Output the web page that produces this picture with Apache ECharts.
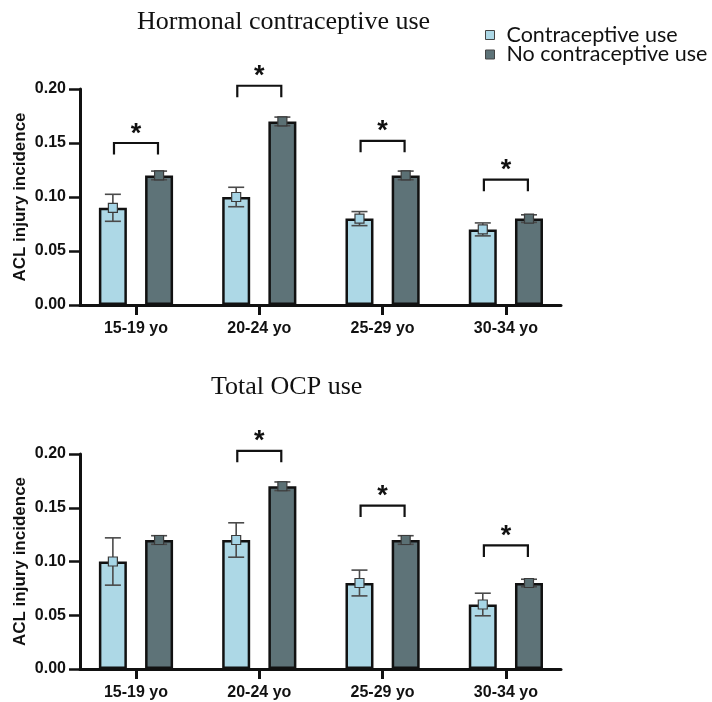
<!DOCTYPE html>
<html><head><meta charset="utf-8">
<script src="https://cdn.jsdelivr.net/npm/echarts@6/dist/echarts.min.js"></script>
<style>html,body{margin:0;padding:0;background:#fff}#c{width:712px;height:702px}</style>
</head><body><div id="c"></div>
<script>
// ---- data ----
const categories = ['15-19 yo', '20-24 yo', '25-29 yo', '30-34 yo'];
const seriesNames = ['Contraceptive use', 'No contraceptive use'];
const panelTitles = ['Hormonal contraceptive use', 'Total OCP use'];
const yAxisName = 'ACL injury incidence';
const yTickValues = [0, 0.05, 0.10, 0.15, 0.20];

// Panel 1: Hormonal contraceptive use
const hormUse = [0.09, 0.10, 0.08, 0.07];
const hormUseErr = [0.0125, 0.009, 0.0065, 0.006];
const hormNoUse = [0.12, 0.17, 0.12, 0.08];
const hormNoUseErr = [0.004, 0.004, 0.004, 0.0035];
const hormSig = [0.150, 0.203, 0.152, 0.116];

// Panel 2: Total OCP use
const ocpUse = [0.10, 0.12, 0.08, 0.06];
const ocpUseErr = [0.022, 0.016, 0.012, 0.0105];
const ocpNoUse = [0.12, 0.17, 0.12, 0.08];
const ocpNoUseErr = [0.004, 0.004, 0.004, 0.0035];
const ocpSig = [null, 0.203, 0.152, 0.115];

// ---- style ----
const LIGHT = '#ADD8E6', DARK = '#5E7378';
const INK = '#111';
const BAR_W = 28, BAR_GAP = 0.65;
const OFF = (BAR_W + BAR_W * BAR_GAP) / 2;
const SANS = '"Liberation Sans", Arial, sans-serif';

const chart = echarts.init(document.getElementById('c'));

function xAxisCfg(gi) {
  return {
    type: 'value', gridIndex: gi, min: -0.454, max: 3.447,
    axisLine: { show: true, onZero: false, lineStyle: { color: INK, width: 3 } },
    axisTick: { show: true, customValues: categories.map((c, i) => i), length: 10, lineStyle: { color: INK, width: 3 } },
    axisLabel: { show: true, customValues: categories.map((c, i) => i), formatter: v => categories[Math.round(v)],
      color: INK, fontFamily: SANS, fontWeight: 'bold', fontSize: 16, margin: 16 },
    splitLine: { show: false }
  };
}
function yAxisCfg(gi) {
  return {
    type: 'value', gridIndex: gi, min: yTickValues[0], max: yTickValues[yTickValues.length - 1], interval: 0.05,
    axisLine: { show: true, onZero: false, lineStyle: { color: INK, width: 3 } },
    axisTick: { show: true, length: 11, lineStyle: { color: INK, width: 2.5 } },
    axisLabel: { color: INK, fontFamily: SANS, fontWeight: 'bold', fontSize: 16, margin: 14, formatter: v => v.toFixed(2) },
    splitLine: { show: false },
    name: yAxisName, nameLocation: 'middle', nameGap: 51, nameRotate: 90, nameMoveOverlap: false,
    nameTextStyle: { color: INK, fontFamily: SANS, fontWeight: 'bold', fontSize: 17 }
  };
}
function barSeries(name, vals, color, gi) {
  return {
    type: 'bar', name, xAxisIndex: gi, yAxisIndex: gi,
    data: vals.map((v, i) => [i, v]),
    barWidth: BAR_W, barGap: (BAR_GAP * 100) + '%',
    itemStyle: { color, borderColor: INK, borderWidth: 2.5 },
    emphasis: { disabled: true }, z: 2
  };
}
function errSeries(vals, errs, side, fill, gi) {
  return {
    type: 'custom', xAxisIndex: gi, yAxisIndex: gi, z: 5, silent: true,
    data: vals.map((v, i) => [i, v, errs[i]]),
    renderItem: function (params, api) {
      const x = api.value(0), m = api.value(1), e = api.value(2);
      const c = api.coord([x, m]), t = api.coord([x, m + e]), b = api.coord([x, m - e]);
      const cx = c[0] + side * OFF;
      const ls = { stroke: '#4a4a4a', lineWidth: 1.6 };
      return { type: 'group', children: [
        { type: 'line', shape: { x1: cx, y1: t[1], x2: cx, y2: b[1] }, style: ls },
        { type: 'line', shape: { x1: cx - 8, y1: t[1], x2: cx + 8, y2: t[1] }, style: ls },
        { type: 'line', shape: { x1: cx - 8, y1: b[1], x2: cx + 8, y2: b[1] }, style: ls },
        { type: 'rect', shape: { x: cx - 4.5, y: c[1] - 4.5, width: 9, height: 9 },
          style: { fill: fill, stroke: '#3a3a3a', lineWidth: 1.2 } }
      ] };
    }
  };
}
function sigSeries(sig, gi) {
  const data = [];
  sig.forEach((v, i) => { if (v != null) data.push([i, v]); });
  return {
    type: 'custom', xAxisIndex: gi, yAxisIndex: gi, z: 6, silent: true, clip: false,
    data,
    renderItem: function (params, api) {
      const p = api.coord([api.value(0), api.value(1)]);
      const L = 11.5, W = 22;
      return { type: 'group', children: [
        { type: 'polyline', shape: { points: [[p[0] - W, p[1] + L], [p[0] - W, p[1]], [p[0] + W, p[1]], [p[0] + W, p[1] + L]] },
          style: { stroke: INK, lineWidth: 2.2, fill: 'none' } },
        { type: 'text', x: p[0], y: p[1] - 8.8,
          style: { text: '*', fill: INK, font: 'bold 27px ' + SANS, align: 'center', verticalAlign: 'middle' } }
      ] };
    }
  };
}

const option = {
  backgroundColor: '#fff',
  animation: false,
  title: [
    { text: panelTitles[0], left: 137, top: 9.5, padding: 0,
      textStyle: { fontFamily: '"Liberation Serif", "Times New Roman", serif', fontSize: 26, fontWeight: 'normal', color: INK } },
    { text: panelTitles[1], left: 211, top: 374.5, padding: 0,
      textStyle: { fontFamily: '"Liberation Serif", "Times New Roman", serif', fontSize: 26, fontWeight: 'normal', color: INK } }
  ],
  legend: {
    orient: 'vertical', left: 485, top: 24, padding: 0, itemGap: -2.5,
    itemWidth: 9, itemHeight: 9, icon: 'rect',
    data: seriesNames,
    itemStyle: { borderColor: '#444', borderWidth: 1 },
    textStyle: { fontFamily: 'Lato, "Open Sans", sans-serif', fontSize: 21.5, color: INK, padding: [0, 0, 0, 7] },
    selectedMode: false
  },
  grid: [
    { left: 80, top: 89, width: 481, height: 216, outerBoundsMode: 'none' },
    { left: 80, top: 454, width: 481, height: 215, outerBoundsMode: 'none' }
  ],
  xAxis: [xAxisCfg(0), xAxisCfg(1)],
  yAxis: [yAxisCfg(0), yAxisCfg(1)],
  series: [
    barSeries(seriesNames[0], hormUse, LIGHT, 0),
    barSeries(seriesNames[1], hormNoUse, DARK, 0),
    barSeries(seriesNames[0], ocpUse, LIGHT, 1),
    barSeries(seriesNames[1], ocpNoUse, DARK, 1),
    errSeries(hormUse, hormUseErr, -1, '#A6D5E6', 0),
    errSeries(hormNoUse, hormNoUseErr, 1, '#5B7074', 0),
    errSeries(ocpUse, ocpUseErr, -1, '#A6D5E6', 1),
    errSeries(ocpNoUse, ocpNoUseErr, 1, '#5B7074', 1),
    sigSeries(hormSig, 0),
    sigSeries(ocpSig, 1)
  ]
};
chart.setOption(option);
</script>
</body></html>
